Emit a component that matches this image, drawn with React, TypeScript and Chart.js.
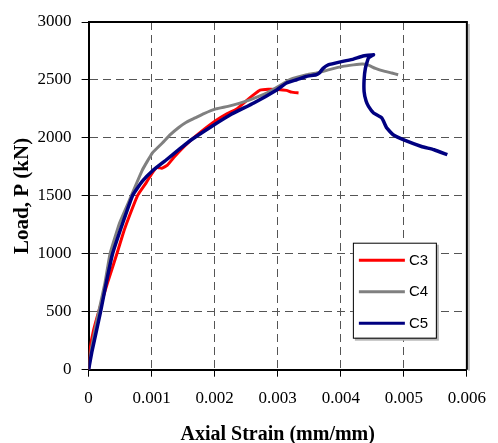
import React, { useEffect, useRef } from "react";
import { Chart, registerables } from "chart.js";

Chart.register(...registerables);

// ---- Data ----
const strainC3 = [0, 0.00003, 0.00008, 0.00016, 0.0003, 0.00045, 0.00055, 0.00065, 0.00078, 0.00091, 0.001, 0.00108, 0.00116, 0.00125, 0.00135, 0.00145, 0.00158, 0.00179, 0.00202, 0.0022, 0.00235, 0.0025, 0.00262, 0.00272, 0.00285, 0.003, 0.00314, 0.00322, 0.00333];
const loadC3 = [0, 199, 343, 501, 750, 1002, 1180, 1330, 1506, 1610, 1690, 1745, 1738, 1765, 1830, 1890, 1960, 2056, 2150, 2210, 2250, 2320, 2373, 2412, 2420, 2418, 2410, 2395, 2388];

const strainC4 = [0, 0.00005, 0.00016, 0.00026, 0.00034, 0.00049, 0.00065, 0.00085, 0.00101, 0.00117, 0.0013, 0.00143, 0.00155, 0.00169, 0.00183, 0.00202, 0.00221, 0.0024, 0.00257, 0.00283, 0.003, 0.0032, 0.00346, 0.00366, 0.00382, 0.00403, 0.0042, 0.00434, 0.00442, 0.00455, 0.0047, 0.00481, 0.00491];
const loadC4 = [0, 200, 500, 750, 1000, 1264, 1466, 1720, 1869, 1956, 2030, 2090, 2135, 2172, 2210, 2250, 2272, 2300, 2330, 2388, 2440, 2505, 2545, 2565, 2589, 2617, 2630, 2638, 2632, 2600, 2574, 2560, 2545];

const strainC5 = [0, 0.00005, 0.00019, 0.00028, 0.00038, 0.00054, 0.0007, 0.00085, 0.00101, 0.00122, 0.00143, 0.00163, 0.00195, 0.00225, 0.00262, 0.00299, 0.00314, 0.0033, 0.00345, 0.00361, 0.00366, 0.00372, 0.0038, 0.00403, 0.0042, 0.00434, 0.00452, 0.00444, 0.00439, 0.00437, 0.00437, 0.0044, 0.00444, 0.00452, 0.00465, 0.00473, 0.00483, 0.00502, 0.00528, 0.00548, 0.00569];
const loadC5 = [0, 150, 500, 750, 1000, 1264, 1506, 1625, 1715, 1805, 1898, 1984, 2099, 2200, 2301, 2416, 2474, 2502, 2530, 2545, 2560, 2600, 2630, 2660, 2680, 2704, 2718, 2690, 2600, 2502, 2400, 2320, 2272, 2215, 2172, 2085, 2027, 1978, 1926, 1898, 1855];

const seriesLabels = ["C3", "C4", "C5"];
const xTicks = [0, 0.001, 0.002, 0.003, 0.004, 0.005, 0.006];
const yTicks = [0, 500, 1000, 1500, 2000, 2500, 3000];

const toXY = (xs: number[], ys: number[]) => xs.map((x, i) => ({ x, y: ys[i] }));

const SERIF = "'Liberation Serif', 'Times New Roman', serif";
const SANS = "'Liberation Sans', Arial, sans-serif";

const framePlugin = {
  id: "frame",
  afterDatasetsDraw(chart: any) {
    const { ctx, chartArea } = chart;
    const { left, top, right, bottom } = chartArea;
    ctx.save();
    ctx.fillStyle = "#bdbdbd";
    ctx.fillRect(right + 1, top + 2, 2, bottom - top - 1);
    ctx.strokeStyle = "#000";
    ctx.lineWidth = 2;
    ctx.beginPath();
    ctx.moveTo(left, top);
    ctx.lineTo(right, top);
    ctx.lineTo(right, bottom);
    ctx.stroke();
    ctx.restore();
  },
};

const legendPlugin = {
  id: "boxLegend",
  afterDraw(chart: any) {
    const { ctx, chartArea } = chart;
    const w = 83;
    const h = 95;
    const bx = chartArea.right - 31 - w;
    const by = chartArea.bottom - 32 - h;
    ctx.save();
    ctx.fillStyle = "#b5b5b5";
    ctx.fillRect(bx + 2, by + 2, w + 1, h + 1);
    ctx.fillStyle = "#fff";
    ctx.fillRect(bx, by, w, h);
    ctx.strokeStyle = "#000";
    ctx.lineWidth = 1;
    ctx.strokeRect(bx + 0.5, by + 0.5, w, h);
    chart.data.datasets.forEach((ds: any, i: number) => {
      const yy = by + 17.5 + i * 31.5;
      ctx.strokeStyle = ds.borderColor;
      ctx.lineWidth = 3;
      ctx.beginPath();
      ctx.moveTo(bx + 6, yy);
      ctx.lineTo(bx + 52, yy);
      ctx.stroke();
      ctx.fillStyle = "#000";
      ctx.font = `15px ${SANS}`;
      ctx.textBaseline = "middle";
      ctx.textAlign = "left";
      ctx.fillText(ds.label, bx + 56, yy + 0.5);
    });
    ctx.restore();
  },
};

export default function App() {
  const ref = useRef<HTMLCanvasElement | null>(null);

  useEffect(() => {
    if (!ref.current) return;
    const colors = ["#ff0000", "#808080", "#000080"];
    const widths = [3, 3, 3.5];
    const data = [toXY(strainC3, loadC3), toXY(strainC4, loadC4), toXY(strainC5, loadC5)];
    const chart = new Chart(ref.current, {
      type: "scatter",
      data: {
        datasets: seriesLabels.map((label, i) => ({
          label,
          data: data[i],
          showLine: true,
          borderColor: colors[i],
          backgroundColor: colors[i],
          borderWidth: widths[i],
          pointRadius: 0,
          tension: 0.12,
          order: 3 - i,
        })),
      },
      options: {
        animation: false,
        responsive: true,
        maintainAspectRatio: false,
        layout: { padding: { left: 0, right: 25, top: 22, bottom: 0 } },
        plugins: {
          legend: { display: false },
          tooltip: { enabled: false },
        },
        scales: {
          x: {
            type: "linear",
            min: xTicks[0],
            max: xTicks[xTicks.length - 1],
            afterBuildTicks: (scale: any) => {
              scale.ticks = xTicks.map((v) => ({ value: v }));
            },
            afterFit: (scale: any) => {
              scale.height = 73.3;
            },
            ticks: {
              callback: (v: any) => (Number(v) === 0 ? "0" : Number(v).toFixed(3)),
              color: "#000",
              font: { family: SERIF, size: 17 },
              padding: 12,
              maxRotation: 0,
            },
            grid: {
              color: "#555",
              lineWidth: 1,
              tickColor: "#000",
              tickLength: 7,
              tickWidth: 1,
              tickBorderDash: [],
            },
            border: { display: true, color: "#000", width: 2, dash: [8, 5] },
            title: {
              display: true,
              text: "Axial Strain (mm/mm)",
              color: "#000",
              font: { family: SERIF, size: 20, weight: "bold", lineHeight: 0.8 },
              padding: { top: 0, bottom: 0 },
            },
          },
          y: {
            type: "linear",
            min: yTicks[0],
            max: yTicks[yTicks.length - 1],
            afterBuildTicks: (scale: any) => {
              scale.ticks = yTicks.map((v) => ({ value: v }));
            },
            afterFit: (scale: any) => {
              scale.width = 88.6;
            },
            ticks: {
              callback: (v: any) => String(Math.round(Number(v))),
              color: "#000",
              font: { family: SERIF, size: 17 },
              padding: 10,
            },
            grid: {
              color: "#555",
              lineWidth: 1,
              tickColor: "#000",
              tickLength: 7,
              tickWidth: 1,
              tickBorderDash: [],
            },
            border: { display: true, color: "#000", width: 2, dash: [8, 5] },
            title: {
              display: true,
              text: "Load, P (kN)",
              color: "#000",
              font: { family: SERIF, size: 21, weight: "bold", lineHeight: 0.8 },
              padding: { top: 14, bottom: 0 },
            },
          },
        },
      },
      plugins: [framePlugin, legendPlugin],
    } as any);
    return () => chart.destroy();
  }, []);

  return (
    <div style={{ position: "absolute", left: 0, top: 0, width: 498, height: 443, background: "#fff" }}>
      <canvas ref={ref} />
    </div>
  );
}
